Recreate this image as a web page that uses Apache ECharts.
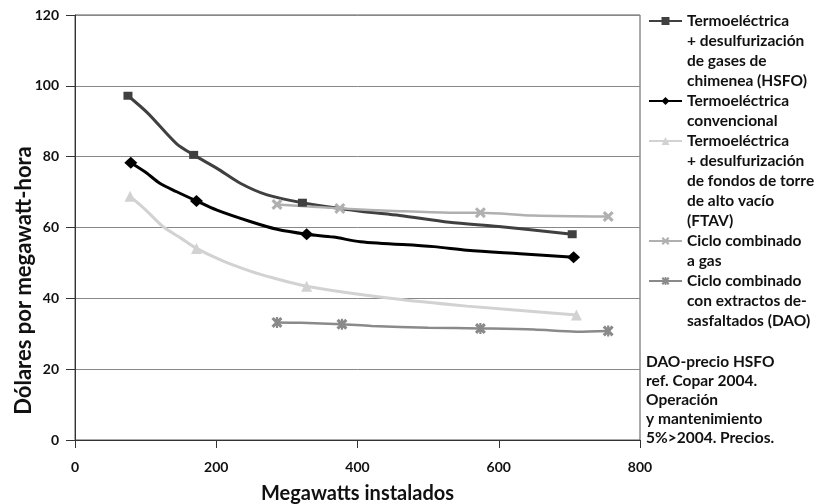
<!DOCTYPE html>
<html>
<head>
<meta charset="utf-8">
<script src="https://cdn.jsdelivr.net/npm/echarts@6/dist/echarts.min.js"></script>
<style>
  html, body { margin: 0; padding: 0; background: #fff; }
  #chart { width: 820px; height: 504px; }
</style>
</head>
<body>
<div id="chart"></div>
<script>
// datos (MW instalados, USD/MWh)
const hsfoX = [75, 103, 144, 168, 201, 234, 272, 322, 404, 460, 530, 600, 704]
const hsfoY = [97.2, 92.3, 83.6, 80.5, 76.7, 72.5, 69.2, 67.0, 64.6, 63.4, 61.5, 60.3, 58.1]
const hsfoMarks = [0, 3, 7, 12]

const convX = [79, 100, 120, 144, 172, 201, 248, 286, 328, 366, 404, 508, 555, 630, 706]
const convY = [78.3, 75.6, 72.5, 70.1, 67.5, 64.9, 61.7, 59.5, 58.1, 57.3, 56.0, 54.6, 53.6, 52.6, 51.6]
const convMarks = [0, 4, 8, 14]

const ftavX = [78, 100, 125, 150, 172, 210, 248, 280, 328, 446, 555, 710]
const ftavY = [68.8, 65.0, 60.2, 57.0, 54.1, 50.5, 47.7, 45.8, 43.4, 40.0, 37.8, 35.3]
const ftavMarks = [0, 4, 8, 11]

const gasX = [286, 375, 460, 531, 574, 649, 755]
const gasY = [66.5, 65.4, 64.6, 64.2, 64.2, 63.4, 63.1]
const gasMarks = [0, 1, 4, 6]

const daoX = [286, 320, 378, 420, 500, 574, 650, 710, 755]
const daoY = [33.2, 33.1, 32.7, 32.2, 31.7, 31.5, 31.2, 30.6, 30.8]
const daoMarks = [0, 2, 5, 8]

const seriesNames = ['HSFO', 'Convencional', 'FTAV', 'Gas', 'DAO']
const legendTexts = [
  'Termoeléctrica\n+ desulfurización\nde gases de\nchimenea (HSFO)',
  'Termoeléctrica\nconvencional',
  'Termoeléctrica\n+ desulfurización\nde fondos de torre\nde alto vacío\n(FTAV)',
  'Ciclo combinado\na gas',
  'Ciclo combinado\ncon extractos de-\nsasfaltados (DAO)'
]
// centro vertical de la primera línea de cada entrada
const legendFirstLine = [21, 101, 141, 241, 281]
const noteText = 'DAO-precio HSFO\nref. Copar 2004.\nOperación\ny mantenimiento\n5%>2004. Precios.'

const xTicks = {min: 0, max: 800, interval: 200}
const yTicks = {min: 0, max: 120, interval: 20}

const FONT = 'Lato'
const LINE_H = 20
const X_SYMBOL = 'path://M2,0 L5,3 L8,0 L10,2 L7,5 L10,8 L8,10 L5,7 L2,10 L0,8 L3,5 L0,2 Z'
const STAR_SYMBOL = 'path://M2,0 L5,3 L8,0 L10,2 L7,5 L10,8 L8,10 L5,7 L2,10 L0,8 L3,5 L0,2 Z M4,0 L6,0 L6,10 L4,10 Z'

const toData = (xs, ys, marks) => xs.map((x, i) => {
  const item = {value: [x, ys[i]]}
  if (!marks.includes(i)) item.symbol = 'none'
  return item
})

const makeSeries = (name, xs, ys, marks, color, width, symbol, size) => ({
  name,
  type: 'line',
  smooth: 0.3,
  showAllSymbol: true,
  symbol,
  symbolSize: size,
  lineStyle: {color, width},
  itemStyle: {color},
  data: toData(xs, ys, marks)
})

// la leyenda centra el texto en el icono: se anteponen líneas vacías
// para que el icono quede a la altura de la primera línea
const makeLegend = (name, i) => {
  const n = legendTexts[i].split('\n').length
  return {
    data: [name],
    orient: 'vertical',
    left: 648,
    top: legendFirstLine[i] - (2 * n - 1) * LINE_H / 2,
    padding: 0,
    itemWidth: 33,
    itemHeight: 10,
    selectedMode: false,
    formatter: () => '\n'.repeat(n - 1) + legendTexts[i],
    textStyle: {
      fontFamily: FONT,
      fontWeight: 'bold',
      fontSize: 15.5,
      color: '#111',
      lineHeight: LINE_H
    }
  }
}

const myChart = echarts.init(document.getElementById('chart'))
const option = {
  backgroundColor: '#fff',
  animation: false,
  textStyle: {fontFamily: FONT},
  grid: {
    left: 75,
    right: 180,
    top: 15,
    bottom: 64,
    outerBoundsMode: 'none',
    show: true,
    borderColor: '#555',
    borderWidth: 1
  },
  legend: seriesNames.map(makeLegend),
  graphic: [{
    type: 'text',
    left: 646,
    top: 352,
    style: {
      text: noteText,
      font: 'bold 15.5px ' + FONT,
      fill: '#111',
      lineHeight: 19
    }
  }],
  xAxis: {
    type: 'value',
    ...xTicks,
    name: 'Megawatts instalados',
    nameLocation: 'middle',
    nameGap: 44,
    nameTextStyle: {color: '#111', fontSize: 20, fontWeight: 'bold', fontFamily: FONT},
    axisLine: {show: true, lineStyle: {color: '#333', width: 1}},
    axisTick: {show: true, length: 8, lineStyle: {color: '#333'}},
    splitLine: {show: false},
    axisLabel: {color: '#111', fontSize: 14, fontWeight: 'bold', margin: 20}
  },
  yAxis: {
    type: 'value',
    ...yTicks,
    name: 'Dólares por megawatt-hora',
    nameLocation: 'middle',
    nameGap: 40,
    nameMoveOverlap: false,
    nameTextStyle: {color: '#111', fontSize: 22, fontWeight: 'bold', fontFamily: FONT, padding: [0, 106, 0, 0]},
    axisLine: {show: true, lineStyle: {color: '#333', width: 1}},
    axisTick: {show: true, length: 9, lineStyle: {color: '#333'}},
    splitLine: {show: true, lineStyle: {color: '#888', width: 1}},
    axisLabel: {color: '#111', fontSize: 14, fontWeight: 'bold', margin: 16}
  },
  series: [
    makeSeries(seriesNames[0], hsfoX, hsfoY, hsfoMarks, '#404040', 3, 'rect', [9, 8]),
    makeSeries(seriesNames[1], convX, convY, convMarks, '#000', 3, 'diamond', [13, 12]),
    makeSeries(seriesNames[2], ftavX, ftavY, ftavMarks, '#d2d2d2', 3, 'triangle', 11),
    makeSeries(seriesNames[3], gasX, gasY, gasMarks, '#b0b0b0', 2.5, X_SYMBOL, 11),
    makeSeries(seriesNames[4], daoX, daoY, daoMarks, '#8a8a8a', 2.5, STAR_SYMBOL, 11)
  ]
}
option && myChart.setOption(option)
</script>
</body>
</html>
